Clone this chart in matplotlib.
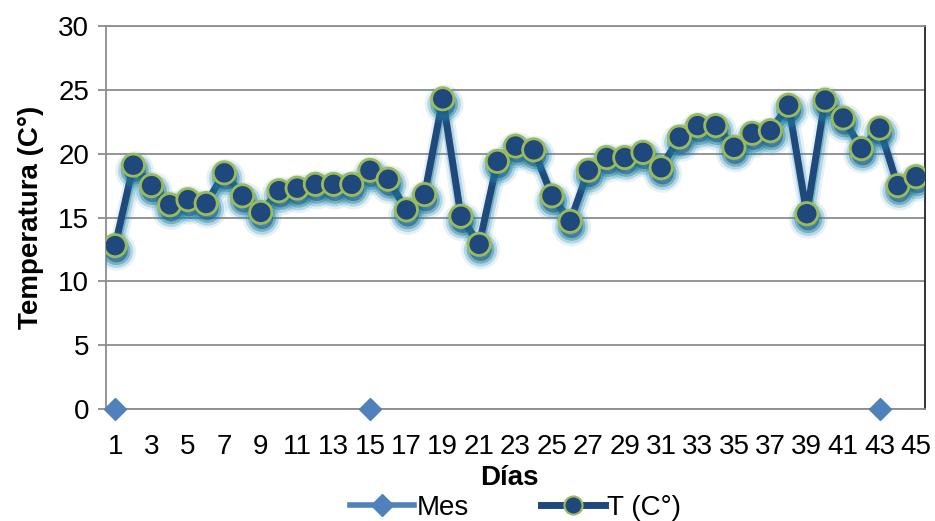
import numpy as np
import matplotlib
matplotlib.use("Agg")
import matplotlib.pyplot as plt
import matplotlib.patheffects as pe
from matplotlib.lines import Line2D

plt.rcParams['font.family'] = ['Liberation Sans', 'DejaVu Sans']

# data
dias = list(range(1, 46))
temp = [12.8, 19.1, 17.5, 16.0, 16.4, 16.1, 18.5, 16.7, 15.4, 17.1,
        17.3, 17.6, 17.6, 17.6, 18.7, 18.0, 15.6, 16.8, 24.3, 15.1,
        12.9, 19.4, 20.6, 20.3, 16.7, 14.7, 18.7, 19.7, 19.7, 20.1,
        18.9, 21.3, 22.2, 22.2, 20.5, 21.6, 21.8, 23.8, 15.3, 24.2,
        22.8, 20.4, 22.0, 17.5, 18.2]
mes_dias = [1, 15, 43]
mes_vals = [0, 0, 0]
yticks = [0, 5, 10, 15, 20, 25, 30]
xtick_labels = [str(d) for d in dias[::2]]

# Mes series only has values on a few days (gaps elsewhere)
mes_full = np.full(len(dias), np.nan)
for d, v in zip(mes_dias, mes_vals):
    mes_full[d - 1] = v

fig = plt.figure(figsize=(9.35, 5.21), dpi=100)
ax = fig.add_axes([0.1134, 0.215, 0.876, 0.735])

ax.yaxis.grid(True, color='#8c8c8c', linewidth=1.3)
ax.set_axisbelow(True)

# blurred teal glow under the series
glow = [pe.Stroke(offset=(1, -4), linewidth=12, foreground='#2d93b5', alpha=0.12),
        pe.Stroke(offset=(1, -4), linewidth=8, foreground='#2589ab', alpha=0.25),
        pe.Stroke(offset=(1, -4), linewidth=4, foreground='#1b7896', alpha=0.4),
        pe.Normal()]
ax.plot(dias, temp, color='#1F497D', linewidth=5, marker='o', markersize=16,
        markerfacecolor='#1F497D', markeredgecolor='#9BBB59', markeredgewidth=2,
        label='T (C°)', path_effects=glow, zorder=3)
ax.plot(dias, mes_full, color='#4F81BD', linewidth=4, marker='D', markersize=11,
        markerfacecolor='#4F81BD', markeredgecolor='#4F81BD', label='Mes',
        clip_on=False, zorder=4)

ax.set_xlim(0.5, 45.5)
ax.set_ylim(0, 30)
ax.set_yticks(yticks)
ax.set_xticks(dias[::2])
ax.set_xticklabels(xtick_labels)
ax.tick_params(axis='y', labelsize=20, length=6, color='#8c8c8c', width=1.3, pad=6)
ax.tick_params(axis='x', labelsize=20, length=0, pad=18)

for s in ['left', 'bottom', 'top']:
    ax.spines[s].set_color('#8c8c8c')
    ax.spines[s].set_linewidth(1.3)
ax.spines['right'].set_color('#222222')
ax.spines['right'].set_linewidth(1.3)

fig.text(0.545, 0.0825, 'Días', fontsize=20, fontweight='bold', ha='center', va='center')
ax.set_ylabel('Temperatura (C°)', fontsize=20, fontweight='bold', labelpad=10)

# legend handles without the glow
h_mes = Line2D([], [], color='#4F81BD', linewidth=4, marker='D', markersize=11,
               markerfacecolor='#4F81BD', markeredgecolor='#4F81BD')
h_t = Line2D([], [], color='#1F497D', linewidth=5, marker='o', markersize=13,
             markerfacecolor='#1F497D', markeredgecolor='#9BBB59', markeredgewidth=1.5)
ax.legend([h_mes, h_t], ['Mes', 'T (C°)'], loc='upper center', bbox_to_anchor=(0.5, -0.195),
          ncol=2, frameon=False, fontsize=20, handlelength=2.3, columnspacing=2.6,
          handletextpad=0.1, borderaxespad=0)

fig.savefig('out.png', dpi=100)
